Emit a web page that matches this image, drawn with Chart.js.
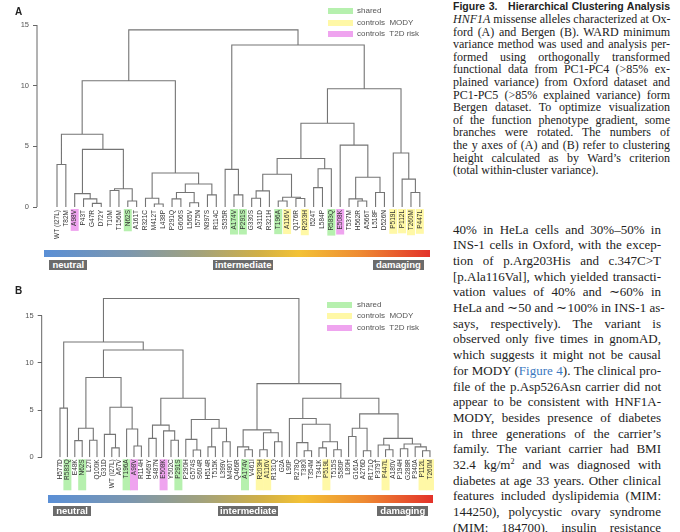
<!DOCTYPE html>
<html><head><meta charset="utf-8">
<script src="https://cdn.jsdelivr.net/npm/chart.js@4.4.1/dist/chart.umd.min.js"></script>
<style>
html,body{margin:0;padding:0;background:#fff;}
#page{position:relative;width:680px;height:532px;overflow:hidden;font-family:"Liberation Sans",Arial,sans-serif;}
.abs{position:absolute;}
canvas{position:absolute;}
.panel{font-weight:bold;font-size:10px;line-height:10px;color:#222;}
.bar{background:linear-gradient(to right,#5a8fd6 0%,#7d97ad 22%,#a2a27c 40%,#d2b045 56%,#f3c236 66%,#ee8a32 82%,#e3322a 100%);}
.tag{background:#6b6b6b;color:#fff;font-weight:bold;font-size:9.5px;line-height:10px;height:10px;text-align:center;white-space:nowrap;}
.leg{font-size:8px;line-height:8px;color:#555;white-space:nowrap;}
.sw{width:25px;height:6px;}
.txt{font-family:"Liberation Serif","Times New Roman",serif;color:#222;}
.ln{white-space:nowrap;text-align:justify;text-align-last:justify;}
.last{text-align-last:left;}
</style></head>
<body><div id="page">
<canvas id="cA" width="440" height="250" style="left:0;top:0"></canvas>
<canvas id="cB" width="440" height="240" style="left:0;top:280px"></canvas>

<div class="abs panel" style="left:15px;top:7px">A</div>
<div class="abs panel" style="left:15px;top:286px">B</div>

<div class="abs sw" style="left:328px;top:8px;background:#b6f0ae"></div>
<div class="abs sw" style="left:328px;top:19.5px;background:#fff8a6"></div>
<div class="abs sw" style="left:328px;top:31px;background:#efa4ef"></div>
<div class="abs leg" style="left:357px;top:7.3px">shared</div>
<div class="abs leg" style="left:357px;top:18.5px">controls&nbsp; MODY</div>
<div class="abs leg" style="left:357px;top:30px">controls&nbsp; T2D risk</div>

<div class="abs sw" style="left:327px;top:301.7px;background:#b6f0ae"></div>
<div class="abs sw" style="left:327px;top:313px;background:#fff8a6"></div>
<div class="abs sw" style="left:327px;top:324.5px;background:#efa4ef"></div>
<div class="abs leg" style="left:357px;top:301px">shared</div>
<div class="abs leg" style="left:357px;top:312.3px">controls&nbsp; MODY</div>
<div class="abs leg" style="left:357px;top:323.8px">controls&nbsp; T2D risk</div>

<div class="abs bar" style="left:44.3px;top:250px;width:385.7px;height:7.3px"></div>
<div class="abs tag" style="left:49.3px;top:260px;width:38px">neutral</div>
<div class="abs tag" style="left:213.3px;top:260px;width:60px">intermediate</div>
<div class="abs tag" style="left:372.7px;top:260px;width:51.3px">damaging</div>

<div class="abs bar" style="left:48.3px;top:495px;width:385px;height:7.7px"></div>
<div class="abs tag" style="left:53.3px;top:506px;width:37.4px">neutral</div>
<div class="abs tag" style="left:218.3px;top:506px;width:60px">intermediate</div>
<div class="abs tag" style="left:377.3px;top:506px;width:51px">damaging</div>

<div class="abs txt" style="left:453px;top:0.4px;width:217px;font-size:12px;line-height:12.6px">
<div class="ln" style="font-family:'Liberation Sans',Arial,sans-serif;font-weight:bold;font-size:10.5px">Figure 3. &nbsp; Hierarchical Clustering Analysis</div>
<div class="ln"><i>HNF1A</i> missense alleles characterized at Ox-</div>
<div class="ln">ford (A) and Bergen (B). WARD minimum</div>
<div class="ln">variance method was used and analysis per-</div>
<div class="ln">formed using orthogonally transformed</div>
<div class="ln">functional data from PC1-PC4 (&gt;85% ex-</div>
<div class="ln">plained variance) from Oxford dataset and</div>
<div class="ln">PC1-PC5 (&gt;85% explained variance) form</div>
<div class="ln">Bergen dataset. To optimize visualization</div>
<div class="ln">of the function phenotype gradient, some</div>
<div class="ln">branches were rotated. The numbers of</div>
<div class="ln">the y axes of (A) and (B) refer to clustering</div>
<div class="ln">height calculated as by Ward’s criterion</div>
<div class="ln last">(total within-cluster variance).</div>
</div>

<div class="abs txt" style="left:453px;top:221.5px;width:208px;font-size:13px;line-height:15.7px">
<div class="ln">40% in HeLa cells and 30%–50% in</div>
<div class="ln">INS-1 cells in Oxford, with the excep-</div>
<div class="ln">tion of p.Arg203His and c.347C&gt;T</div>
<div class="ln">[p.Ala116Val], which yielded transacti-</div>
<div class="ln">vation values of 40% and ∼60% in</div>
<div class="ln">HeLa and ∼50 and ∼100% in INS-1 as-</div>
<div class="ln">says, respectively). The variant is</div>
<div class="ln">observed only five times in gnomAD,</div>
<div class="ln">which suggests it might not be causal</div>
<div class="ln">for MODY (<span style="color:#3a78c0">Figure 4</span>). The clinical pro-</div>
<div class="ln">file of the p.Asp526Asn carrier did not</div>
<div class="ln">appear to be consistent with HNF1A-</div>
<div class="ln">MODY, besides presence of diabetes</div>
<div class="ln">in three generations of the carrier’s</div>
<div class="ln">family. The variant carrier had BMI</div>
<div class="ln">32.4 kg/m<sup style="font-size:8px;line-height:0">2</sup> and was diagnosed with</div>
<div class="ln">diabetes at age 33 years. Other clinical</div>
<div class="ln">features included dyslipidemia (MIM:</div>
<div class="ln">144250), polycystic ovary syndrome</div>
<div class="ln">(MIM: 184700), insulin resistance</div>
</div>
</div>

<script>
// ---------- data ----------
const yTicks = [0, 5, 10, 15];

// Panel A (Oxford): leaf order and merges (R hclust convention: negative = leaf, positive = earlier merge row)
const leavesA = ['WT (I27L)','T82M','A98V','P43T','G47R','D72Y','T10M','T156M','N62S','A161T',
  'R321C','M412T','L438P','P291Q','G606S','L565V','I575N','N397S','R114C','S535R',
  'A174V','P291S','G330S','A311D','R321H','T196A','A116V','Q176R','R203H','I524T',
  'L584P','R583Q','E508K','T537M','H562R','A566T','L518F','D526N','P519L','P112L','T260M','P447L'];
const mergeA = [
  [-5,-6,0.3],[-4,1,0.67],[-3,2,1.1],[-7,-8,1.36],[-9,-10,0.5],[4,5,1.5],[3,6,4.75],[-1,-2,3.5],[8,7,6.0],
  [-12,-13,0.25],[-11,10,0.72],[-14,-15,0.67],[-16,-17,0.35],[12,13,1.2],[-18,-19,1.0],[14,15,1.9],[11,16,2.8],
  [9,17,10.4],
  [-21,-22,1.0],[-20,19,3.1],
  [-23,-24,0.72],[21,-25,1.33],[-26,-27,0.5],[-28,-29,0.7],[23,24,0.8],[22,25,2.7],[-30,-31,1.6],[27,-32,3.15],[26,28,4.0],
  [-35,-36,0.5],[-34,30,0.67],[-37,-38,1.2],[31,32,2.45],[-33,33,5.1],[29,34,6.9],
  [-41,-42,1.2],[-40,36,2.3],[-39,37,4.45],[35,38,9.75],
  [20,39,13.35],[18,40,14.6]
];
const sharedA = ['N62S','A174V','P291S','T196A','R583Q'];
const modyA = ['A116V','R203H','P519L','P112L','T260M','P447L'];
const t2dA = ['A98V','E508K'];

// Panel B (Bergen)
const leavesB = ['H577D','R583Q','E48K','N62S','L27I','Q100K','G31D','WT (I27L)','A67V','T196A',
  'A98V','R114H','H469Y','S487N','E508K','Y502C','P291S','P290H','G574S','S604R',
  'H514R','T515K','L399V','M490T','Q466R','A174V','V461I','R203H','A116V','R131Q',
  'G2A','L90P','R278Q','T380I','T354M','T341K','P519L','T515S','S580P','L80H',
  'G161A','A276D','R171Q','P379T','P447L','A180V','P194H','G288R','P340A','P112L','T260M'];
const mergeB = [
  [-1,-2,5.2],[-3,-4,1.76],[-5,-6,1.8],[2,3,3.07],[-8,-9,1.0],[-7,5,2.43],[-11,-12,1.2],[-10,7,3.0],[6,8,5.3],[4,9,8.45],
  [-13,-14,2.0],[-16,-17,1.8],[-15,12,2.8],[11,13,3.4],
  [-19,-20,0.77],[-18,15,1.9],[-21,-22,1.1],[-23,-24,1.65],[17,18,3.07],[16,19,4.0],[14,20,6.25],
  [10,21,11.35],[1,22,12.2],
  [-26,-27,0.8],[-25,24,1.1],[-28,-29,0.8],[-30,-31,1.65],[26,27,2.6],[25,28,2.9],
  [-34,-35,0.7],[-33,30,1.55],[-36,-37,1.0],[-38,-39,0.8],[32,33,1.65],[31,34,3.5],[-32,35,4.1],
  [-40,-41,2.2],[-42,-43,0.7],[37,38,3.07],
  [-45,-46,0.8],[-44,40,1.3],[-47,-48,0.9],[-50,-51,0.7],[-49,43,1.1],[42,44,1.4],[41,45,2.0],[39,46,4.6],
  [36,47,6.25],[29,48,7.8],[23,49,16.8]
];
const sharedB = ['R583Q','N62S','T196A','P291S','A174V'];
const modyB = ['R203H','A116V','P519L','P447L','P112L','T260M'];
const t2dB = ['A98V','E508K'];

// ---------- helpers ----------
function dendroPoints(merge){
  const pos = [], hgt = [], pts = [];
  const node = c => c < 0 ? [-c - 1, 0] : [pos[c - 1], hgt[c - 1]];
  merge.forEach(([a, b, h]) => {
    const [xa, ha] = node(a), [xb, hb] = node(b);
    pts.push({x:xa,y:ha},{x:xa,y:h},{x:xb,y:h},{x:xb,y:hb},{x:xb,y:null});
    pos.push((xa + xb) / 2); hgt.push(h);
  });
  return pts;
}

const LABEL_FONT = 6.5;

const highlight = (leaves, groups, fixedH) => ({
  id: 'hl',
  beforeDraw(chart){
    const {ctx, chartArea} = chart, x = chart.scales.x;
    ctx.save();
    ctx.font = LABEL_FONT + 'px "Liberation Sans"';
    groups.forEach(([names, color]) => names.forEach(n => {
      const i = leaves.indexOf(n); if (i < 0) return;
      const px = x.getPixelForValue(i);
      const h = fixedH || (ctx.measureText(n).width + 6);
      ctx.fillStyle = color;
      ctx.fillRect(px - 4, chartArea.bottom + 2, 8, h);
    }));
    ctx.restore();
  }
});

const axisLine = {
  id: 'axisLine',
  afterDraw(chart){
    const {ctx, chartArea} = chart, y = chart.scales.y;
    ctx.save();
    ctx.strokeStyle = '#666'; ctx.lineWidth = 1;
    ctx.beginPath();
    ctx.moveTo(chartArea.left, y.getPixelForValue(yTicks[0]));
    ctx.lineTo(chartArea.left, y.getPixelForValue(yTicks[yTicks.length - 1]));
    ctx.stroke();
    ctx.restore();
  }
};

function makeChart(id, leaves, merge, groups, o){
  return new Chart(document.getElementById(id), {
    type: 'line',
    data: {datasets: [{data: dendroPoints(merge), borderColor: '#747474', borderWidth: 1.1,
      pointRadius: 0, spanGaps: false, tension: 0, fill: false}]},
    options: {
      responsive: false, animation: false, devicePixelRatio: 1,
      layout: {padding: {top: o.padTop, right: o.padRight, left: 0, bottom: 0}},
      plugins: {legend: {display: false}, tooltip: {enabled: false}},
      scales: {
        x: {type: 'linear', min: o.xmin, max: o.xmax,
          grid: {display: false, drawTicks: false}, border: {display: false},
          afterBuildTicks: s => { s.ticks = leaves.map((_, i) => ({value: i})); },
          afterFit: s => { s.height = o.xh; },
          ticks: {autoSkip: false, minRotation: 90, maxRotation: 90, padding: o.lp,
            font: {size: LABEL_FONT, family: 'Liberation Sans'}, color: '#333',
            callback: v => leaves[Math.round(v)]}},
        y: {type: 'linear', min: 0, max: o.ymax,
          afterBuildTicks: s => { s.ticks = yTicks.map(v => ({value: v})); },
          afterFit: s => { s.width = o.yw; },
          grid: {drawOnChartArea: false, drawTicks: true, tickLength: 4, color: '#666'},
          border: {display: false},
          ticks: {padding: 4, font: {size: 7.5, family: 'Liberation Sans'}, color: '#555'}}
      }
    },
    plugins: [highlight(leaves, groups, o.boxH), axisLine]
  });
}

makeChart('cA', leavesA, mergeA,
  [[sharedA, '#b6f0ae'], [modyA, '#fff8a6'], [t2dA, '#efa4ef']],
  {padTop: 25, padRight: 10, xmin: -2.26, xmax: 42.15, xh: 43, yw: 37, ymax: 15, lp: 3, boxH: 0});

makeChart('cB', leavesB, mergeB,
  [[sharedB, '#b6f0ae'], [modyB, '#fff8a6'], [t2dB, '#efa4ef']],
  {padTop: 16.65, padRight: 5, xmin: -2.473, xmax: 50.68, xh: 62.7, yw: 41.7, ymax: 17, lp: 2, boxH: 31});
</script>
</body></html>
